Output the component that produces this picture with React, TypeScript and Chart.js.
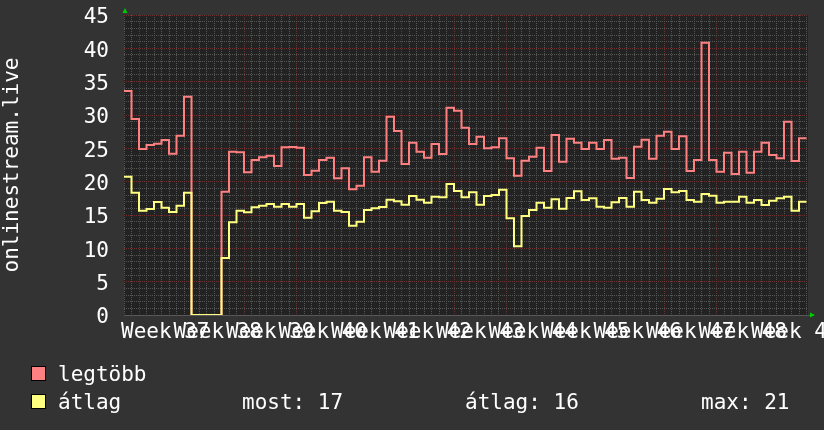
import React, { useEffect, useRef } from 'react';
import { Chart, registerables } from 'chart.js';

Chart.register(...registerables);

// daily values (one per day)
const legtobb = [
  33.6, 29.4, 24.9, 25.5, 25.7, 26.25, 24.2, 26.9, 32.75, 0,
  0, 0, 0, 18.5, 24.5, 24.4, 21.4, 23.25, 23.65, 23.9,
  22.35, 25.15, 25.2, 25.1, 21.0, 21.65, 23.25, 23.6, 20.5, 22.0,
  18.85, 19.4, 23.65, 21.5, 23.15, 29.75, 27.6, 22.65, 25.85, 24.5,
  23.6, 25.65, 24.15, 31.1, 30.65, 28.1, 25.65, 26.75, 25.0, 25.15,
  26.5, 23.5, 20.9, 23.15, 23.75, 25.1, 21.6, 27.0, 23.0, 26.45,
  25.85, 24.9, 25.85, 24.9, 26.25, 23.45, 23.6, 20.55, 25.25, 26.3,
  23.45, 26.9, 27.5, 24.9, 26.8, 21.6, 23.25, 40.85, 23.25, 21.5,
  24.35, 21.15, 24.5, 21.35, 24.5, 25.85, 24.0, 23.5, 29.0, 23.1,
  26.5,
];

const atlag = [
  20.75, 18.35, 15.65, 15.9, 16.95, 16.1, 15.45, 16.4, 18.35, 0,
  0, 0, 0, 8.55, 13.9, 15.65, 15.4, 16.15, 16.4, 16.65,
  16.25, 16.65, 16.25, 16.65, 14.6, 15.55, 16.8, 17.0, 15.65, 15.45,
  13.4, 14.0, 15.75, 16.0, 16.2, 17.3, 17.05, 16.55, 17.85, 17.3,
  16.85, 17.75, 17.65, 19.65, 18.6, 17.65, 18.4, 16.55, 17.85, 18.0,
  18.8, 14.5, 10.3, 14.85, 15.75, 16.85, 16.1, 17.35, 15.95, 17.55,
  18.55, 17.25, 17.5, 16.25, 16.1, 16.9, 17.55, 16.25, 18.5, 17.25,
  16.85, 17.45, 18.9, 18.4, 18.6, 17.25, 17.0, 18.15, 17.9, 16.85,
  17.0, 17.0, 17.75, 16.85, 17.25, 16.5, 17.15, 17.5, 17.75, 15.65,
  17.0,
];

const weekNumbers = [37, 38, 39, 40, 41, 42, 43, 44, 45, 46, 47, 48, 49];
const weekLabels = weekNumbers.map((n) => 'Week ' + n);
const yLabelValues = [0, 5, 10, 15, 20, 25, 30, 35, 40, 45];

const yAxisTitle = 'onlinestream.live';
const legendItems = [
  { label: 'legtöbb', color: '#ff8080' },
  { label: 'átlag', color: '#ffff80' },
];
const statItems = ['most: 17', 'átlag: 16', 'max: 21'];

const FIRST_WEEK_DAY = 2; // day index where week 37 begins
const X_MAX = 91.2;
const FONT = "'DejaVu Sans Mono', monospace";
const MINOR = '#555555';
const MAJOR = '#6e3131';

export default function App() {
  const ref = useRef<HTMLCanvasElement>(null);

  useEffect(() => {
    document.body.style.margin = '0';
    document.body.style.background = '#333333';
    const toPts = (arr: number[]) => [
      ...arr.map((v, i) => ({ x: i, y: v })),
      { x: arr.length, y: arr[arr.length - 1] },
    ];
    const dayTicks: number[] = [];
    for (let d = 0; d <= legtobb.length; d++) dayTicks.push(d);
    const yTicks: number[] = [];
    for (let v = 0; v <= 45; v++) yTicks.push(v);
    const weekCenters = weekNumbers.map((_, k) => FIRST_WEEK_DAY + 3.5 + 7 * k);

    const decor = {
      id: 'decor',
      beforeDraw(chart: any) {
        const { ctx, chartArea: a } = chart;
        ctx.save();
        ctx.fillStyle = '#333333';
        ctx.fillRect(0, 0, chart.width, chart.height);
        ctx.fillStyle = '#222222';
        ctx.fillRect(a.left, a.top, a.right - a.left, a.bottom - a.top);
        ctx.restore();
      },
      afterDraw(chart: any) {
        const { ctx, chartArea: a } = chart;
        ctx.save();
        ctx.strokeStyle = '#5a5a5a';
        ctx.lineWidth = 1;
        ctx.beginPath();
        ctx.moveTo(a.left, a.bottom + 0.5);
        ctx.lineTo(a.right + 2, a.bottom + 0.5);
        ctx.stroke();
        ctx.fillStyle = '#00cc00';
        ctx.beginPath();
        ctx.moveTo(a.left + 1, a.top - 7);
        ctx.lineTo(a.left - 1.5, a.top - 2);
        ctx.lineTo(a.left + 3.5, a.top - 2);
        ctx.closePath();
        ctx.fill();
        ctx.beginPath();
        ctx.moveTo(a.right + 7, a.bottom);
        ctx.lineTo(a.right + 2, a.bottom - 2.5);
        ctx.lineTo(a.right + 2, a.bottom + 2.5);
        ctx.closePath();
        ctx.fill();
        ctx.restore();
      },
    };

    const chart = new Chart(ref.current as HTMLCanvasElement, {
      type: 'line',
      data: {
        datasets: [
          {
            label: legendItems[0].label,
            data: toPts(legtobb),
            borderColor: legendItems[0].color,
            borderWidth: 2,
            pointRadius: 0,
            stepped: 'before',
            fill: false,
            order: 2,
          },
          {
            label: legendItems[1].label,
            data: toPts(atlag),
            borderColor: legendItems[1].color,
            borderWidth: 2,
            pointRadius: 0,
            stepped: 'before',
            fill: false,
            order: 1,
          },
        ],
      },
      options: {
        animation: false,
        responsive: false,
        devicePixelRatio: 1,
        layout: { padding: { top: 15, right: 16, left: 0, bottom: 0 } },
        plugins: { legend: { display: false }, tooltip: { enabled: false } },
        scales: {
          x: {
            type: 'linear',
            position: 'bottom',
            min: 0,
            max: X_MAX,
            afterBuildTicks: (s: any) => {
              s.ticks = dayTicks.map((v) => ({ value: v }));
            },
            ticks: { display: false, autoSkip: false },
            grid: {
              drawTicks: false,
              lineWidth: 1,
              color: (c: any) =>
                c.tick && (c.tick.value - FIRST_WEEK_DAY) % 7 === 0 ? MAJOR : MINOR,
            },
            border: { display: false, dash: [1, 1] },
            afterFit: (s: any) => {
              s.height = 0;
              s.paddingLeft = 0;
              s.paddingRight = 0;
            },
          },
          x2: {
            type: 'linear',
            position: 'bottom',
            min: 0,
            max: X_MAX,
            afterBuildTicks: (s: any) => {
              s.ticks = weekCenters.map((v) => ({ value: v }));
            },
            ticks: {
              autoSkip: false,
              maxRotation: 0,
              minRotation: 0,
              color: '#ffffff',
              font: { family: FONT, size: 21 },
              padding: 5,
              callback: (_v: any, i: number) => weekLabels[i],
            },
            grid: { display: false, drawTicks: false },
            border: { display: false },
            afterFit: (s: any) => {
              s.height = 115;
              s.paddingLeft = 0;
              s.paddingRight = 0;
            },
          },
          y: {
            type: 'linear',
            min: 0,
            max: 45,
            afterBuildTicks: (s: any) => {
              s.ticks = yTicks.map((v) => ({ value: v }));
            },
            ticks: {
              autoSkip: false,
              color: '#ffffff',
              font: { family: FONT, size: 21 },
              padding: 15,
              labelOffset: 3,
              callback: (v: any) => (yLabelValues.includes(v) ? String(v) : ''),
            },
            grid: {
              drawTicks: false,
              lineWidth: 1,
              color: (c: any) => (c.tick && c.tick.value % 5 === 0 ? MAJOR : MINOR),
            },
            border: { display: false, dash: [1, 1] },
            title: {
              display: true,
              text: yAxisTitle,
              color: '#ffffff',
              font: { family: FONT, size: 21 },
              padding: { top: 0, bottom: 0 },
            },
            afterFit: (s: any) => {
              s.width = 124;
              s.paddingTop = 0;
              s.paddingBottom = 0;
            },
          },
        },
      },
      plugins: [decor],
    } as any);
    return () => chart.destroy();
  }, []);

  const textStyle: React.CSSProperties = {
    position: 'absolute',
    fontFamily: FONT,
    fontSize: 21,
    lineHeight: '21px',
    color: '#ffffff',
    whiteSpace: 'pre',
  };
  const rowTops = [364, 392];
  const statX = [242, 465, 701];

  return (
    <div style={{ position: 'fixed', left: 0, top: 0, width: 824, height: 430, background: '#333333' }}>
      <canvas ref={ref} width={824} height={430} style={{ display: 'block', width: 824, height: 430 }} />
      {legendItems.map((it, i) => (
        <React.Fragment key={it.label}>
          <div
            style={{
              position: 'absolute',
              left: 31,
              top: rowTops[i] + 2,
              width: 13,
              height: 13,
              background: it.color,
              border: '1px solid #000',
            }}
          />
          <div style={{ ...textStyle, left: 58, top: rowTops[i] }}>{it.label}</div>
        </React.Fragment>
      ))}
      {statItems.map((s, i) => (
        <div key={s} style={{ ...textStyle, left: statX[i], top: rowTops[1] }}>{s}</div>
      ))}
    </div>
  );
}
